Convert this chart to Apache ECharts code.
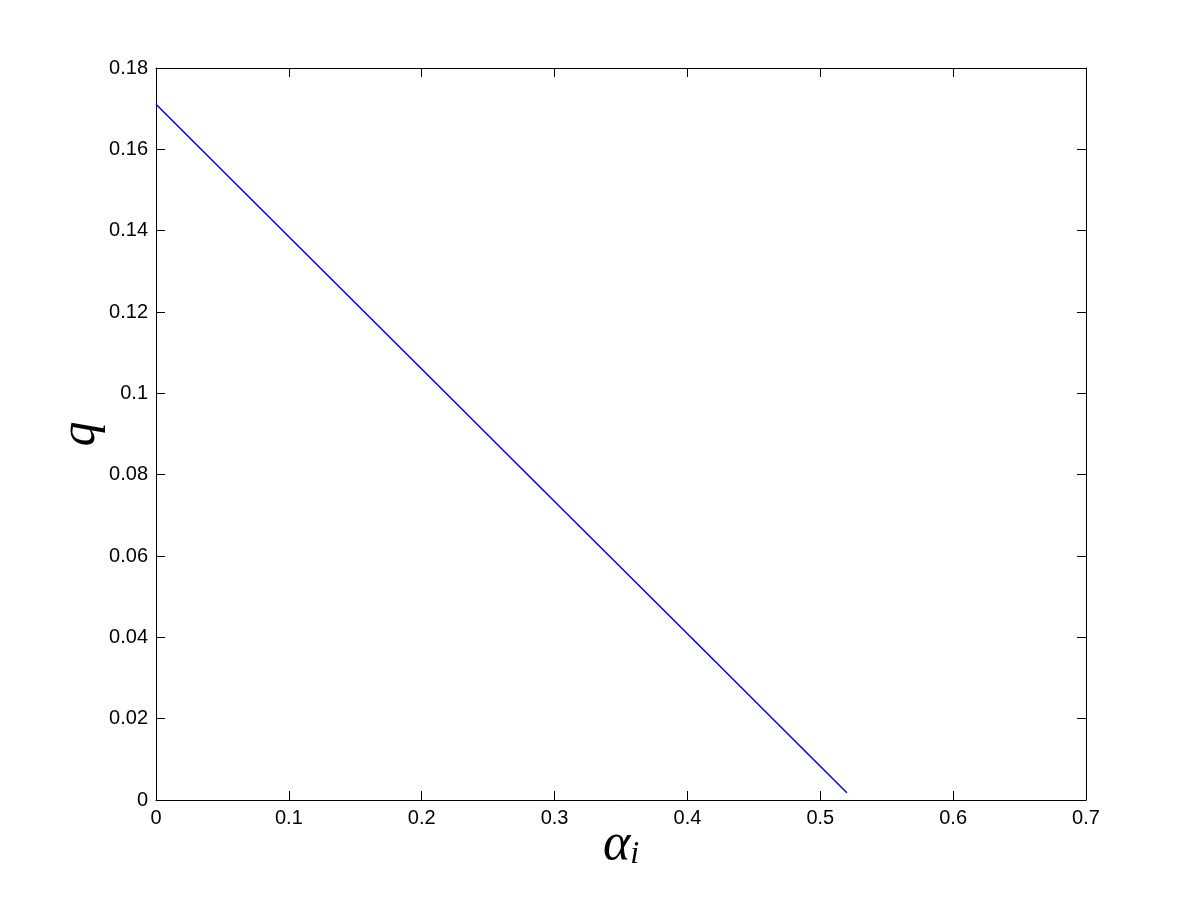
<!DOCTYPE html>
<html>
<head>
<meta charset="utf-8">
<script src="https://cdn.jsdelivr.net/npm/echarts@6/dist/echarts.min.js"></script>
<style>html,body{margin:0;padding:0;background:#fff;}#c{width:1200px;height:900px;}</style>
</head>
<body>
<div id="c"></div>
<script>
const alphaVals = [0, 0.1, 0.2, 0.3, 0.4, 0.5, 0.52];
const qVals = [0.1711, 0.1385, 0.1060, 0.0734, 0.0409, 0.0083, 0.0018];
const xTicks = { min: 0, max: 0.7, interval: 0.1 };
const yTicks = { min: 0, max: 0.18, interval: 0.02 };

const chart = echarts.init(document.getElementById('c'), null, { renderer: 'canvas' });
const tickFont = { fontFamily: 'Liberation Sans, Arial, sans-serif', fontSize: 20, color: '#000' };
const axisLine = { show: true, onZero: false, lineStyle: { color: '#000', width: 1 } };
const axisTick = { show: true, inside: true, length: 9, lineStyle: { color: '#000', width: 1 } };

chart.setOption({
  backgroundColor: '#fff',
  animation: false,
  grid: { left: 156, right: 114, top: 68, bottom: 100, containLabel: false },
  xAxis: [
    {
      type: 'value', min: xTicks.min, max: xTicks.max, interval: xTicks.interval,
      position: 'bottom',
      axisLine, axisTick,
      splitLine: { show: false },
      axisLabel: Object.assign({ margin: 8, formatter: v => String(+v.toFixed(2)) }, tickFont),
      name: '{a|α}{i|i}', nameLocation: 'middle', nameGap: 19, nameMoveOverlap: false,
      nameTextStyle: {
        rich: {
          a: { fontFamily: 'Liberation Serif, Times New Roman, serif', fontStyle: 'italic', fontSize: 52, color: '#000' },
          i: { fontFamily: 'Liberation Serif, Times New Roman, serif', fontStyle: 'italic', fontSize: 32, color: '#000', verticalAlign: 'bottom', padding: [20, 0, 0, 0] }
        }
      }
    },
    {
      type: 'value', min: xTicks.min, max: xTicks.max, interval: xTicks.interval,
      position: 'top',
      axisLine, axisTick,
      splitLine: { show: false },
      axisLabel: { show: false }
    }
  ],
  yAxis: [
    {
      type: 'value', min: yTicks.min, max: yTicks.max, interval: yTicks.interval,
      position: 'left',
      axisLine, axisTick,
      splitLine: { show: false },
      axisLabel: Object.assign({ margin: 8, formatter: v => String(+v.toFixed(2)) }, tickFont),
      name: 'q', nameLocation: 'middle', nameGap: 50, nameRotate: 90, nameMoveOverlap: false,
      nameTextStyle: { fontFamily: 'Liberation Serif, Times New Roman, serif', fontStyle: 'italic', fontSize: 50, color: '#000' }
    },
    {
      type: 'value', min: yTicks.min, max: yTicks.max, interval: yTicks.interval,
      position: 'right',
      axisLine, axisTick,
      splitLine: { show: false },
      axisLabel: { show: false }
    }
  ],
  series: [{
    type: 'line',
    data: alphaVals.map((a, i) => [a, qVals[i]]),
    showSymbol: false,
    symbol: 'none',
    lineStyle: { color: '#0000ff', width: 1.5 },
    xAxisIndex: 0, yAxisIndex: 0
  }]
});
</script>
</body>
</html>
